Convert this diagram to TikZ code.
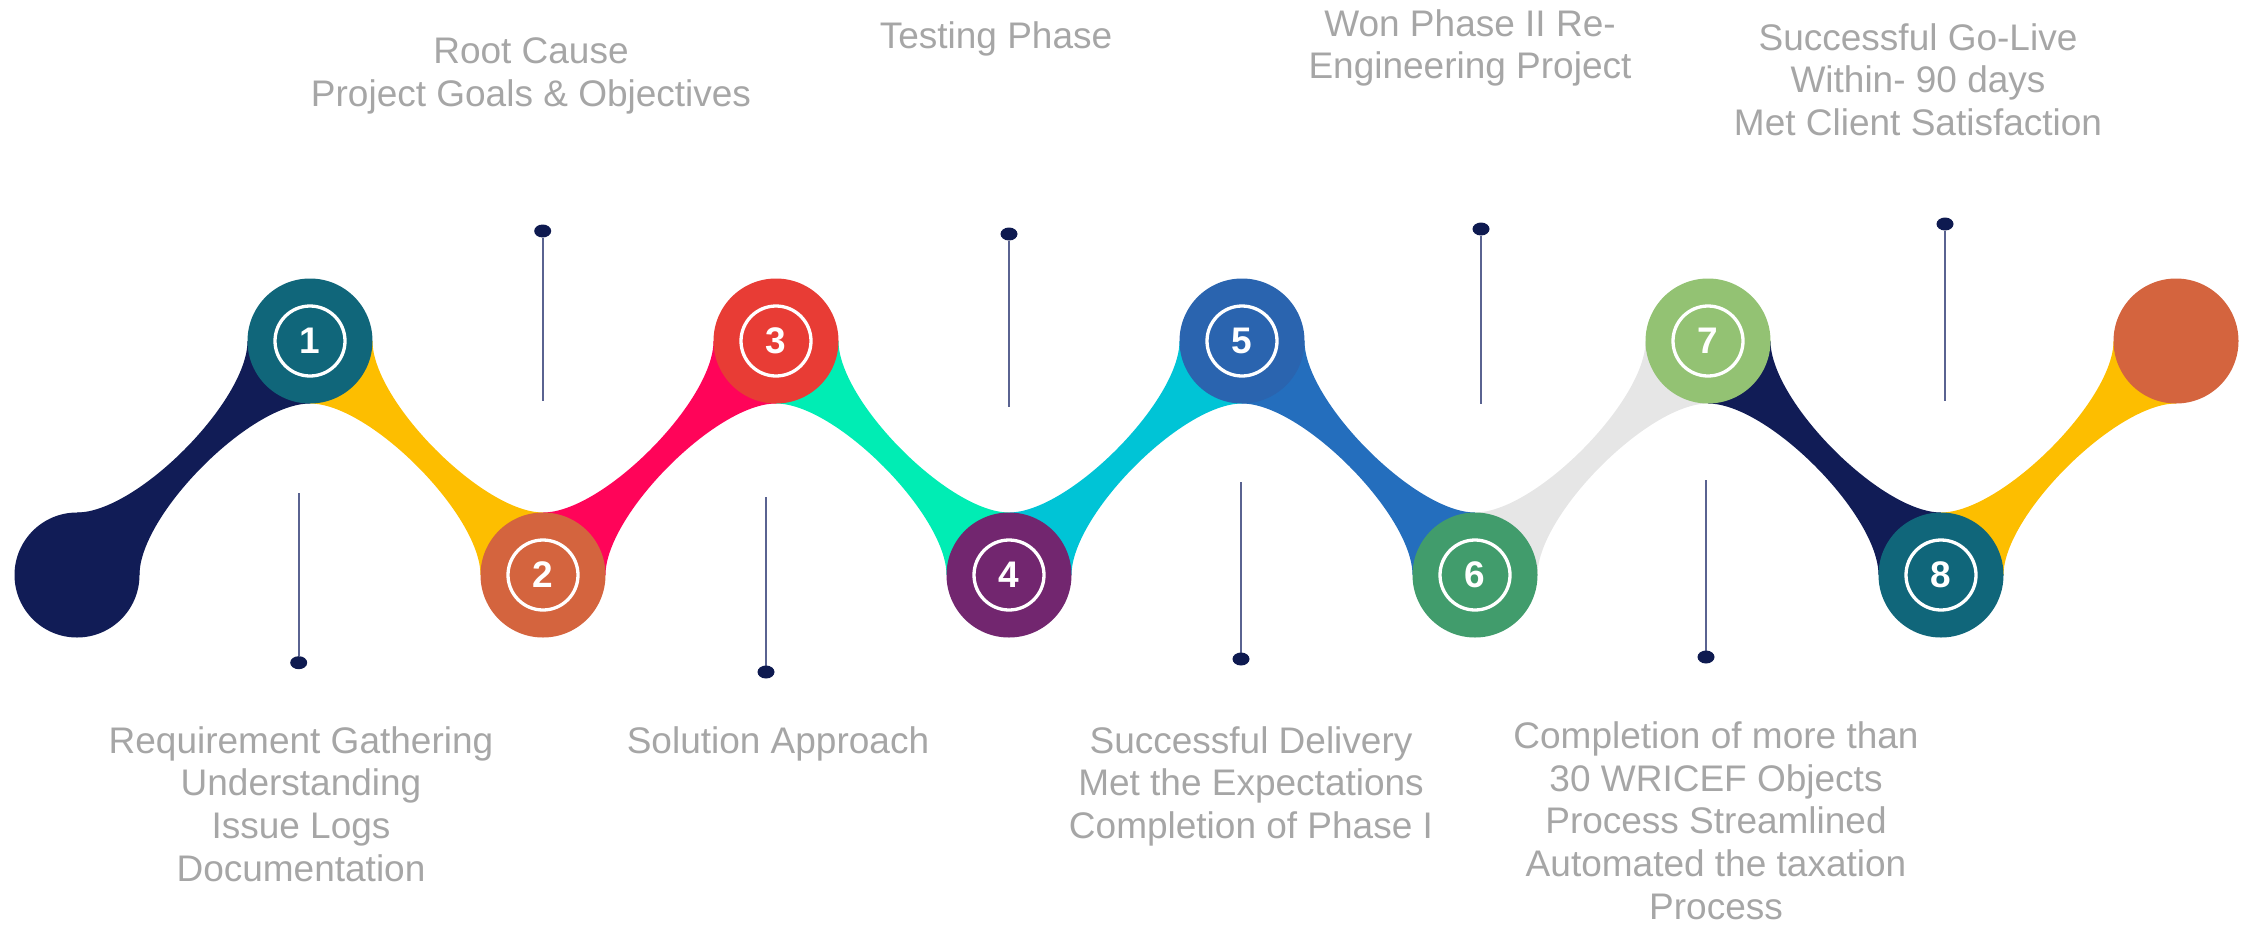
\documentclass[tikz,border=0pt]{standalone}
\usepackage{fontspec}
\setmainfont{Liberation Sans}
\usetikzlibrary{shapes.geometric,backgrounds}
\definecolor{navy}{HTML}{111C56}
\definecolor{tealc}{HTML}{10667A}
\definecolor{orangec}{HTML}{D4643E}
\definecolor{redc}{HTML}{E83C35}
\definecolor{purplec}{HTML}{72266F}
\definecolor{bluec}{HTML}{2A64AF}
\definecolor{greenc}{HTML}{419C6C}
\definecolor{lgreenc}{HTML}{93C273}
\definecolor{yellowc}{HTML}{FDBE00}
\definecolor{pinkc}{HTML}{FF0459}
\definecolor{mintc}{HTML}{00EDB4}
\definecolor{cyanc}{HTML}{00C4D6}
\definecolor{blueb}{HTML}{246EBD}
\definecolor{lgrayc}{HTML}{E6E6E6}
\definecolor{pincol}{HTML}{5A6391}
\definecolor{dotcol}{HTML}{0E1A50}
\definecolor{labelgray}{HTML}{A6A6A6}
\begin{document}
\begin{tikzpicture}[x=1pt,y=-1pt,
  stepcirc/.style={circle, minimum size=125pt, inner sep=0pt, outer sep=0pt, fill=#1, text=white,
    font=\fontsize{37}{40}\selectfont\bfseries},
  ring/.style={path picture={\draw[white,line width=3.3pt] (path picture bounding box.center) circle (35pt);}},
  band/.style={fill=#1},
  pinline/.style={draw=pincol, line width=2pt},
  pindot/.style={ellipse, fill=dotcol, minimum width=17pt, minimum height=13pt, inner sep=0pt, outer sep=0pt},
  desc/.style={text=labelgray, align=center, anchor=north, inner sep=0pt,
    font=\fontsize{37}{42.7}\selectfont}
]
\useasboundingbox (0,0) rectangle (2247,924);

% step circles
\node[stepcirc=navy] (c0) at (77,575) {};
\node[stepcirc=tealc, ring] (c1) at (310,341) {1};
\node[stepcirc=orangec, ring] (c2) at (543,575) {2};
\node[stepcirc=redc, ring] (c3) at (776,341) {3};
\node[stepcirc=purplec, ring] (c4) at (1009,575) {4};
\node[stepcirc=bluec, ring] (c5) at (1242,341) {5};
\node[stepcirc=greenc, ring] (c6) at (1475,575) {6};
\node[stepcirc=lgreenc, ring] (c7) at (1708,341) {7};
\node[stepcirc=tealc, ring] (c8) at (1941,575) {8};
\node[stepcirc=orangec] (c9) at (2176,341) {};

% connecting bands
\begin{pgfonlayer}{background}
\fill[band=navy] (c0.north) .. controls +(60,0) and +(0,60) .. (c1.west) -- (c1.south) .. controls +(-60,0) and +(0,-60) .. (c0.east) -- cycle;
\fill[band=yellowc] (c1.east) .. controls +(0,60) and +(-60,0) .. (c2.north) -- (c2.west) .. controls +(0,-60) and +(60,0) .. (c1.south) -- cycle;
\fill[band=pinkc] (c2.north) .. controls +(60,0) and +(0,60) .. (c3.west) -- (c3.south) .. controls +(-60,0) and +(0,-60) .. (c2.east) -- cycle;
\fill[band=mintc] (c3.east) .. controls +(0,60) and +(-60,0) .. (c4.north) -- (c4.west) .. controls +(0,-60) and +(60,0) .. (c3.south) -- cycle;
\fill[band=cyanc] (c4.north) .. controls +(60,0) and +(0,60) .. (c5.west) -- (c5.south) .. controls +(-60,0) and +(0,-60) .. (c4.east) -- cycle;
\fill[band=blueb] (c5.east) .. controls +(0,60) and +(-60,0) .. (c6.north) -- (c6.west) .. controls +(0,-60) and +(60,0) .. (c5.south) -- cycle;
\fill[band=lgrayc] (c6.north) .. controls +(60,0) and +(0,60) .. (c7.west) -- (c7.south) .. controls +(-60,0) and +(0,-60) .. (c6.east) -- cycle;
\fill[band=navy] (c7.east) .. controls +(0,60) and +(-60,0) .. (c8.north) -- (c8.west) .. controls +(0,-60) and +(60,0) .. (c7.south) -- cycle;
\fill[band=yellowc] (c8.north) .. controls +(60,0) and +(0,60) .. (c9.west) -- (c9.south) .. controls +(-60,0) and +(0,-60) .. (c8.east) -- cycle;
\end{pgfonlayer}

% pins above
\node[pindot] (d2) at (542.7,231) {};
\node[pindot] (d4) at (1009,234) {};
\node[pindot] (d6) at (1481,229) {};
\node[pindot] (d8) at (1945,224) {};
\coordinate (e2) at (542.7,401);
\coordinate (e4) at (1009,407);
\coordinate (e6) at (1481,404);
\coordinate (e8) at (1945,401);
% pins below
\node[pindot] (d1) at (298.7,662.7) {};
\node[pindot] (d3) at (766,672) {};
\node[pindot] (d5) at (1241,659) {};
\node[pindot] (d7) at (1706,657) {};
\coordinate (e1) at (298.7,493);
\coordinate (e3) at (766,497);
\coordinate (e5) at (1241,482);
\coordinate (e7) at (1706,480);
\begin{pgfonlayer}{background}
\foreach \i in {1,...,8} {\draw[pinline] (d\i) -- (e\i);}
\end{pgfonlayer}

% texts
\node[desc] (t2) at (531,37.3) {Root Cause\\Project Goals \& Objectives};
\node[desc] (t4) at (996,21.3) {Testing Phase};
\node[desc] (t6) at (1470,9) {Won Phase II Re-\\Engineering Project};
\node[desc] (t8) at (1918,23.2) {Successful Go-Live\\Within- 90 days\\Met Client Satisfaction};
\node[desc] (t1) at (301,726) {Requirement Gathering\\Understanding\\Issue Logs\\Documentation};
\node[desc] (t3) at (778,726) {Solution Approach};
\node[desc] (t5) at (1251,726) {Successful Delivery\\Met the Expectations\\Completion of Phase I};
\node[desc] (t7) at (1716,721.5) {Completion of more than\\30 WRICEF Objects\\Process Streamlined\\Automated the taxation\\Process};
\end{tikzpicture}
\end{document}
